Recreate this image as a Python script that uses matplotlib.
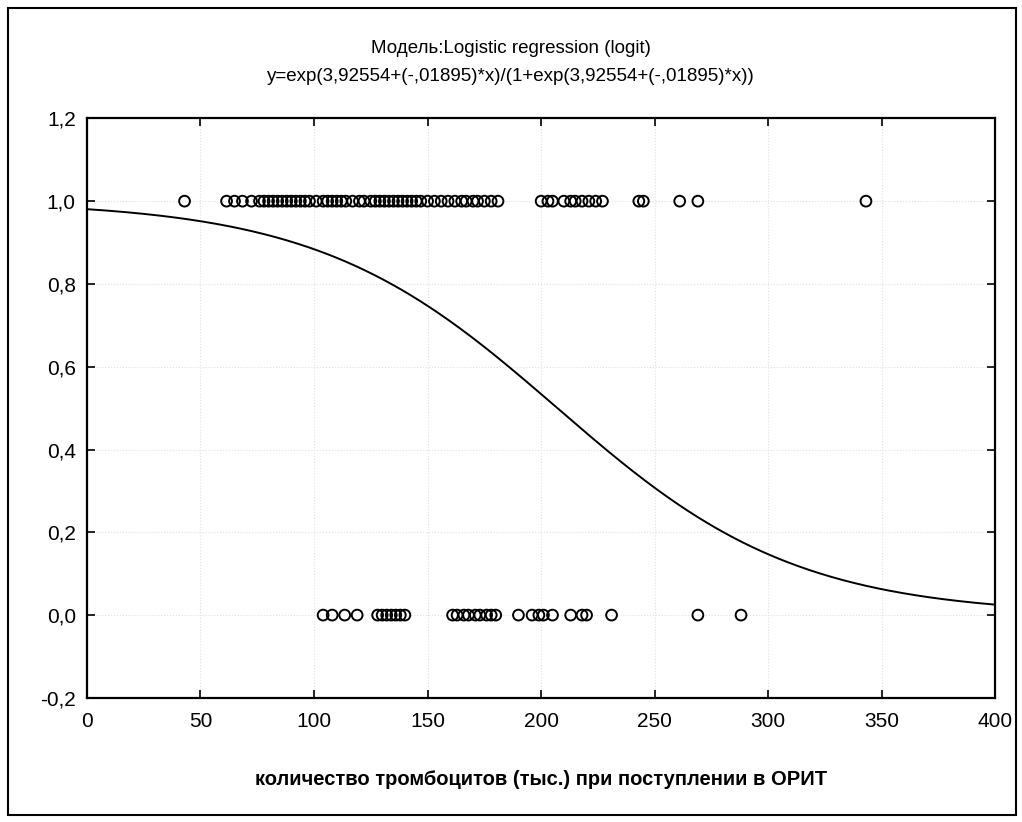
import numpy as np
import matplotlib
matplotlib.use('Agg')
import matplotlib.pyplot as plt
from matplotlib.patches import Rectangle
from matplotlib.ticker import FuncFormatter

plt.rcParams['font.family'] = ['Liberation Sans', 'DejaVu Sans']

#===============================================================================
# Data
#===============================================================================

b0 = 3.92554
b1 = -0.01895

# platelets of patients with outcome 1
x_one = [43, 61.5, 65, 68.5, 72.5, 76, 78, 80, 82, 84, 86, 88, 90, 92, 94, 96,
         98, 101, 104, 106, 108, 110, 112, 114, 117, 120, 122, 125, 127, 129,
         131, 133, 135, 137, 139, 141, 143, 145, 147, 150, 153, 156, 159, 162,
         165, 167, 170, 172, 175, 178, 181, 200, 203, 205, 210, 213, 215, 218,
         221, 224, 227, 243, 245, 261, 269, 343]

# platelets of patients with outcome 0
x_zero = [104, 108, 113.5, 119, 128, 130, 132, 134, 136, 138, 140, 161, 163,
          166, 168, 171, 173, 176, 178, 180, 190, 196, 199, 201, 205, 213,
          218, 220, 231, 269, 288]

title1 = 'Модель:Logistic regression (logit)'
title2 = 'y=exp(3,92554+(-,01895)*x)/(1+exp(3,92554+(-,01895)*x))'
xlabel = 'количество тромбоцитов (тыс.) при поступлении в ОРИТ'

#===============================================================================
# Plot
#===============================================================================

fig = plt.figure(figsize=(10.22, 8.22), dpi=100)
ax = fig.add_axes([0.085, 0.151, 0.889, 0.705])

xc = np.linspace(0, 400, 400)
yc = np.exp(b0 + b1 * xc) / (1 + np.exp(b0 + b1 * xc))
ax.plot(xc, yc, color='black', linewidth=1.4)

ax.scatter(x_one, np.ones(len(x_one)), s=60, facecolors='none',
           edgecolors='black', linewidths=1.4, zorder=3)
ax.scatter(x_zero, np.zeros(len(x_zero)), s=60, facecolors='none',
           edgecolors='black', linewidths=1.4, zorder=3)

ax.set_xlim(0, 400)
ax.set_ylim(-0.2, 1.2)
ax.set_xticks(np.arange(0, 401, 50))
ax.set_yticks(np.arange(-0.2, 1.21, 0.2))
ax.yaxis.set_major_formatter(FuncFormatter(lambda v, p: '{:.1f}'.format(v).replace('.', ',')))
ax.tick_params(direction='in', top=True, right=True, length=6, width=1.2,
               labelsize=15)
ax.tick_params(axis='x', pad=10)
ax.tick_params(axis='y', pad=8)
for s in ax.spines.values():
    s.set_linewidth(1.6)
ax.grid(True, color='#e0e0e0', linestyle=':', linewidth=0.8)

ax.set_xlabel(xlabel, fontsize=14.5, fontweight='bold', labelpad=28)
fig.text(0.5, 0.941, title1, ha='center', va='center', fontsize=13.5)
fig.text(0.5, 0.907, title2, ha='center', va='center', fontsize=13.5)

fig.patches.append(Rectangle((0.008, 0.009), 0.986, 0.981, transform=fig.transFigure,
                             fill=False, edgecolor='black', linewidth=1.5))

fig.savefig('out.png', dpi=100)
